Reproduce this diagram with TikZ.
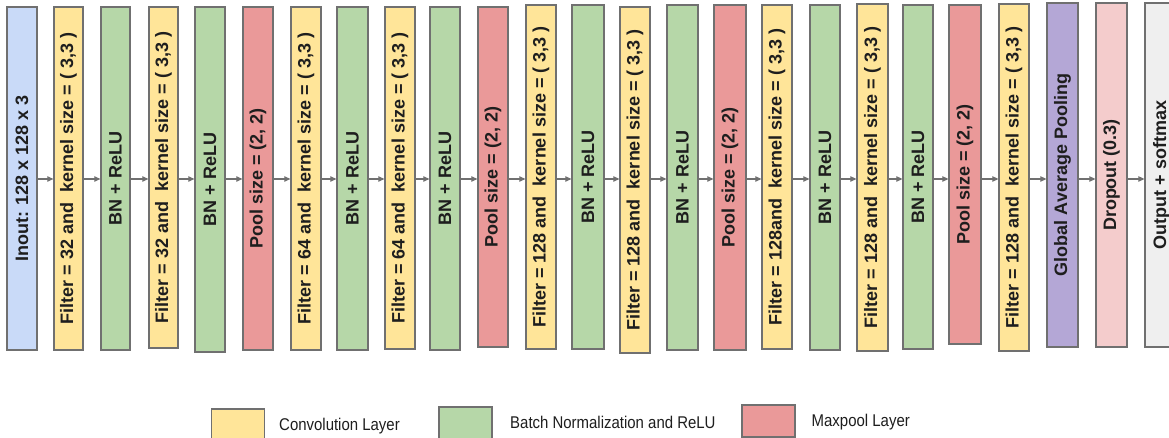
\documentclass[tikz,border=0pt]{standalone}
\usepackage{fontspec}
\setmainfont{Liberation Sans}
\usetikzlibrary{arrows.meta}

\definecolor{inblue}{HTML}{C9DAF8}
\definecolor{convyellow}{HTML}{FFE599}
\definecolor{bngreen}{HTML}{B6D7A8}
\definecolor{poolred}{HTML}{EA9999}
\definecolor{gappurple}{HTML}{B4A7D6}
\definecolor{droppink}{HTML}{F4CCCC}
\definecolor{outgray}{HTML}{EFEFEF}
\definecolor{edgegray}{HTML}{707070}
\definecolor{arrgray}{HTML}{707070}
\definecolor{inkdark}{HTML}{1E1E1E}

% one vertical layer block: name, left, right, top, bottom, fill, label
\newcommand\cnnbox[7]{%
  \node[layerbox, fill=#6, minimum width={#3-#2}, minimum height={#5-#4}]
    (#1) at ({(#2+#3)/2},{(#4+#5)/2}) {\rotatebox{90}{#7}};}

\begin{document}
\begin{tikzpicture}[x=1pt, y=-1pt,
  layerbox/.style={draw=edgegray, line width=1.3pt, rectangle, inner sep=0pt,
    text=inkdark, font=\bfseries\fontsize{18}{20}\selectfont},
  keybox/.style={draw=edgegray, line width=1.3pt, rectangle, inner sep=0pt,
    minimum width=53pt, minimum height=32pt},
  keytext/.style={anchor=base west, inner sep=0pt, text=inkdark,
    font=\fontsize{17}{19}\selectfont},
  flow/.style={draw=arrgray, line width=1.2pt,
    -{Triangle[length=6pt,width=5.5pt]}}]

\useasboundingbox (0,0) rectangle (1169,438);
\clip (0,0) rectangle (1169,438);
\fill[white] (0,0) rectangle (1169,438);

\coordinate (flowy) at (0,179);

% layer chain
\cnnbox{in}{7}{37}{7}{350}{inblue}{Inout: 128 x 128 x 3}
\cnnbox{c1}{54}{83}{7}{350}{convyellow}{Filter = 32 and\ \ kernel size = ( 3,3 )}
\cnnbox{b1}{101}{130}{7}{350}{bngreen}{BN + ReLU}
\cnnbox{c2}{149}{178}{7}{348}{convyellow}{Filter = 32 and\ \ kernel size = ( 3,3 )}
\cnnbox{b2}{195}{225}{7}{352}{bngreen}{BN + ReLU}
\cnnbox{p1}{243}{273}{7}{350}{poolred}{Pool size = (2, 2)}
\cnnbox{c3}{291}{321}{7}{350}{convyellow}{Filter = 64 and\ \ kernel size = ( 3,3 )}
\cnnbox{b3}{337}{368}{7}{350}{bngreen}{BN + ReLU}
\cnnbox{c4}{385}{415}{7}{349}{convyellow}{Filter = 64 and\ \ kernel size = ( 3,3 )}
\cnnbox{b4}{430}{460}{7}{350}{bngreen}{BN + ReLU}
\cnnbox{p2}{478}{508}{7}{347}{poolred}{Pool size = (2, 2)}
\cnnbox{c5}{526}{556}{5}{349}{convyellow}{Filter = 128 and\ \ kernel size = ( 3,3 )}
\cnnbox{b5}{572}{604}{5}{349}{bngreen}{BN + ReLU}
\cnnbox{c6}{620}{650}{7}{353}{convyellow}{Filter = 128 and\ \ kernel size = ( 3,3 )}
\cnnbox{b6}{667}{698}{5}{350}{bngreen}{BN + ReLU}
\cnnbox{p3}{714}{746}{5}{350}{poolred}{Pool size = (2, 2)}
\cnnbox{c7}{762}{792}{5}{349}{convyellow}{Filter = 128and\ \ kernel size = ( 3,3 )}
\cnnbox{b7}{810}{840}{5}{350}{bngreen}{BN + ReLU}
\cnnbox{c8}{857}{888}{4}{351}{convyellow}{Filter = 128 and\ \ kernel size = ( 3,3 )}
\cnnbox{b8}{903}{933}{5}{349}{bngreen}{BN + ReLU}
\cnnbox{p4}{949}{981}{5}{344}{poolred}{Pool size = (2, 2)}
\cnnbox{c9}{999}{1029}{4}{351}{convyellow}{Filter = 128 and\ \ kernel size = ( 3,3 )}
\cnnbox{gap}{1047}{1078}{3}{347}{gappurple}{Global Average Pooling}
\cnnbox{drop}{1096}{1127}{3}{347}{droppink}{Dropout (0.3)}
\cnnbox{out}{1145}{1178}{3}{347}{outgray}{Output + softmax}

% connectors between consecutive layers
\foreach \a/\b in {in/c1, c1/b1, b1/c2, c2/b2, b2/p1, p1/c3, c3/b3, b3/c4,
                   c4/b4, b4/p2, p2/c5, c5/b5, b5/c6, c6/b6, b6/p3, p3/c7,
                   c7/b7, b7/c8, c8/b8, b8/p4, p4/c9, c9/gap, gap/drop, drop/out}
  \draw[flow] (\a.east |- flowy) -- (\b.west |- flowy);

% legend
\node[keybox, fill=convyellow] (kconv) at (238,425) {};
\node[keytext] (tconv) at (279,430) {\scalebox{0.88}[1]{Convolution Layer}};
\node[keybox, fill=bngreen] (kbn) at (465.5,423) {};
\node[keytext] (tbn) at (510,428.3) {\scalebox{0.88}[1]{Batch Normalization and ReLU}};
\node[keybox, fill=poolred] (kpool) at (768.5,421) {};
\node[keytext] (tpool) at (811.5,426) {\scalebox{0.88}[1]{Maxpool Layer}};

\end{tikzpicture}
\end{document}
